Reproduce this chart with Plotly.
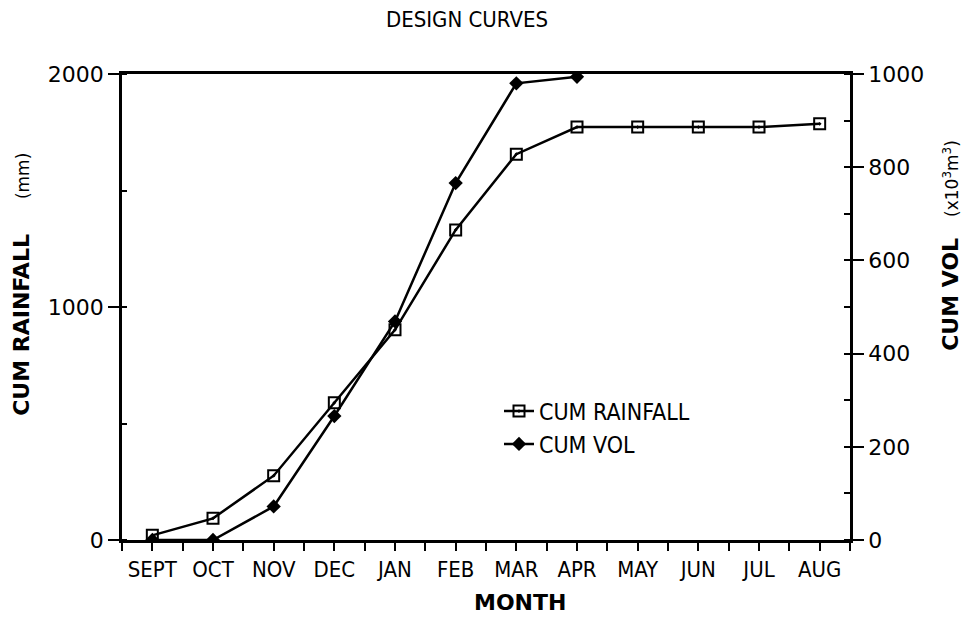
import plotly.graph_objects as go

months = ["SEPT", "OCT", "NOV", "DEC", "JAN", "FEB", "MAR", "APR", "MAY", "JUN", "JUL", "AUG"]
cum_rainfall = [20, 93, 276, 589, 902, 1331, 1656, 1772, 1772, 1772, 1772, 1786]
cum_vol = [0, 0, 72, 266, 469, 766, 980, 994]

x_rain = list(range(len(cum_rainfall)))
x_vol = list(range(len(cum_vol)))

COND = "Liberation Sans Narrow, DejaVu Sans Condensed, Arial Narrow, Roboto, sans-serif"
TICKF = "DejaVu Sans, Verdana, sans-serif"
BOLDF = "DejaVu Sans, Arial Black, sans-serif"

W, H = 967, 617
L, R, T, B = 122, 850, 74, 540.5

def px_x(p):
    return (p - L) / (R - L)

def px_y(p):
    return (B - p) / (B - T)

fig = go.Figure()
fig.add_trace(go.Scatter(
    x=x_rain, y=cum_rainfall, name="CUM RAINFALL", mode="lines+markers",
    line=dict(color="black", width=2.5),
    marker=dict(symbol="square-open-dot", size=11, color="black", line=dict(width=2, color="black")),
))
fig.add_trace(go.Scatter(
    x=x_vol, y=cum_vol, name="CUM VOL", mode="lines+markers", yaxis="y2",
    line=dict(color="black", width=2.5),
    marker=dict(symbol="diamond", size=11, color="black"),
))

fig.update_layout(
    width=W, height=H,
    margin=dict(l=L, r=W - R, t=T, b=H - B, autoexpand=False),
    paper_bgcolor="white", plot_bgcolor="white",
    showlegend=True,
    title=dict(text="DESIGN CURVES", x=467 / W, xanchor="center", xref="container",
               y=1 - 19 / H, yanchor="middle", yref="container",
               font=dict(family=COND, size=22, color="black")),
    xaxis=dict(
        range=[-0.5, len(months) - 0.5], tickmode="array",
        tickvals=list(range(len(months))), ticktext=months,
        ticks="outside", ticklen=8, tickwidth=2, tickcolor="black",
        minor=dict(tickmode="linear", tick0=0.5, dtick=1, ticks="outside", ticklen=8,
                   tickwidth=2, tickcolor="black"),
        showline=True, linecolor="black", linewidth=2.5, mirror=True,
        showgrid=False, zeroline=False,
        tickfont=dict(family=COND, size=22, color="black"),
        fixedrange=True,
    ),
    yaxis=dict(
        range=[0, 2000], tickmode="linear", tick0=0, dtick=1000,
        ticks="outside", ticklen=11, tickwidth=2, tickcolor="black",
        minor=dict(tickmode="linear", tick0=0, dtick=500, ticks="inside", ticklen=5,
                   tickwidth=2, tickcolor="black"),
        showline=True, linecolor="black", linewidth=2.5,
        showgrid=False, zeroline=False,
        tickfont=dict(family=TICKF, size=22, color="black"),
    ),
    yaxis2=dict(
        range=[0, 1000], tickmode="linear", tick0=0, dtick=200,
        overlaying="y", side="right",
        ticks="outside", ticklen=11, tickwidth=2, tickcolor="black",
        minor=dict(tickmode="linear", tick0=0, dtick=100, ticks="inside", ticklen=6,
                   tickwidth=2, tickcolor="black"),
        showline=True, linecolor="black", linewidth=2.5,
        showgrid=False, zeroline=False,
        tickfont=dict(family=TICKF, size=22, color="black"),
    ),
    legend=dict(
        x=px_x(499), xanchor="left", y=px_y(428), yanchor="middle",
        bgcolor="rgba(0,0,0,0)", borderwidth=0,
        font=dict(family=COND, size=23, color="black"),
        itemwidth=30, tracegroupgap=0,
    ),
    annotations=[
        dict(text="<b>CUM RAINFALL</b>&nbsp;&nbsp;&nbsp;&nbsp;&nbsp;<span style='font-size:17px'>(mm)</span>",
             x=px_x(22), y=px_y(284), xref="paper", yref="paper",
             textangle=-90, showarrow=False, xanchor="center", yanchor="middle",
             font=dict(family=BOLDF, size=22, color="black")),
        dict(text="<b>CUM VOL</b>&nbsp;&nbsp;&nbsp;<span style='font-size:17px'>(x10<sup>3</sup>m<sup>3</sup>)</span>",
             x=px_x(951), y=px_y(246), xref="paper", yref="paper",
             textangle=-90, showarrow=False, xanchor="center", yanchor="middle",
             font=dict(family=BOLDF, size=22, color="black")),
        dict(text="<b>MONTH</b>", x=px_x(520), y=px_y(603), xref="paper", yref="paper",
             showarrow=False, xanchor="center", yanchor="middle",
             font=dict(family=BOLDF, size=22, color="black")),
    ],
)

fig.write_html("out.html", config={"displayModeBar": False},
               post_script="document.body.style.margin='0';document.body.style.overflow='hidden';")
